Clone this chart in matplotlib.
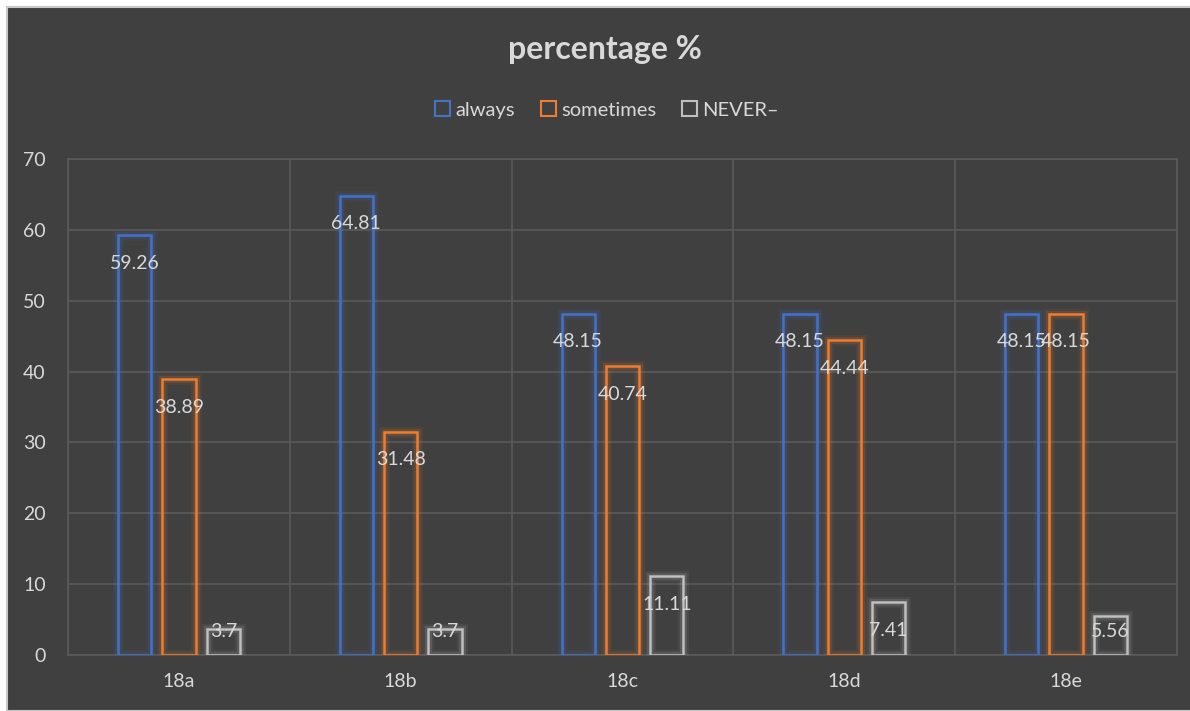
import matplotlib.pyplot as plt
import numpy as np
from matplotlib.patches import Patch, Rectangle
import matplotlib.patheffects as pe

plt.rcParams['font.family'] = ['Lato', 'DejaVu Sans']

categories = ["18a", "18b", "18c", "18d", "18e"]
always = [59.26, 64.81, 48.15, 48.15, 48.15]
sometimes = [38.89, 31.48, 40.74, 44.44, 48.15]
never = [3.7, 3.7, 11.11, 7.41, 5.56]
series_names = ["always", "sometimes", "NEVER\u2013"]

BG = "#404040"
GRID = "#5a5a5a"
TXT = "#d9d9d9"
COLORS = ["#4472C4", "#ED7D31", "#BFBFBF"]

fig = plt.figure(figsize=(11.9, 7.11), dpi=100)
fig.patch.set_facecolor("white")
# dark chart background with a thin light frame, offset like the screenshot
fig.patches.append(Rectangle((7 / 1190, 0), 1, 1 - 7 / 711, transform=fig.transFigure,
                             facecolor=BG, edgecolor="#c8c8c8", linewidth=1.5, zorder=-10))

ax = fig.add_axes([68 / 1190, 1 - 655 / 711, (1177 - 68) / 1190, (655 - 159) / 711])
ax.set_facecolor(BG)

x = np.arange(len(categories))
width = 0.15
offsets = [-0.2, 0.0, 0.2]

for data, off, col, name in zip([always, sometimes, never], offsets, COLORS, series_names):
    bars = ax.bar(x + off, data, width, facecolor="none", edgecolor=col,
                  linewidth=1.8, label=name, zorder=3)
    for b in bars:
        b.set_path_effects([pe.Stroke(linewidth=8, foreground=col, alpha=0.08),
                            pe.Stroke(linewidth=5, foreground=col, alpha=0.15),
                            pe.Normal()])
    for xi, v in zip(x + off, data):
        ly = max(v - 3.95, 3.3)
        ax.text(xi, ly, f"{v:g}", ha="center", va="center", color=TXT,
                fontsize=14, zorder=5)

ax.set_xlim(-0.5, len(categories) - 0.5)
ax.set_ylim(0, 70)
ax.set_yticks(range(0, 71, 10))
ax.set_xticks(x)
ax.set_xticklabels(categories)
ax.set_xticks(np.arange(-0.5, len(categories), 1), minor=True)
ax.tick_params(axis="both", which="both", length=0, colors=TXT, labelsize=14)
ax.tick_params(axis="y", pad=16)
ax.tick_params(axis="x", pad=13)
ax.grid(axis="y", color=GRID, linewidth=1.2, zorder=0)
ax.grid(axis="x", which="minor", color=GRID, linewidth=1.2, zorder=0)
for s in ax.spines.values():
    s.set_color(GRID)
    s.set_linewidth(1.2)

fig.text(0.508, 1 - 50 / 711, "percentage %", ha="center", va="center",
         color=TXT, fontsize=23, fontweight="bold")

handles = [Patch(facecolor="none", edgecolor=c, linewidth=1.5, label=n)
           for c, n in zip(COLORS, series_names)]
fig.legend(handles=handles, loc="center", bbox_to_anchor=(0.51, 1 - 110 / 711), ncol=3,
           frameon=False, fontsize=14.5, labelcolor=TXT, handlelength=0.75,
           handleheight=0.75, handletextpad=0.25, columnspacing=1.3)

fig.savefig("out.png", dpi=100, facecolor=fig.get_facecolor())
